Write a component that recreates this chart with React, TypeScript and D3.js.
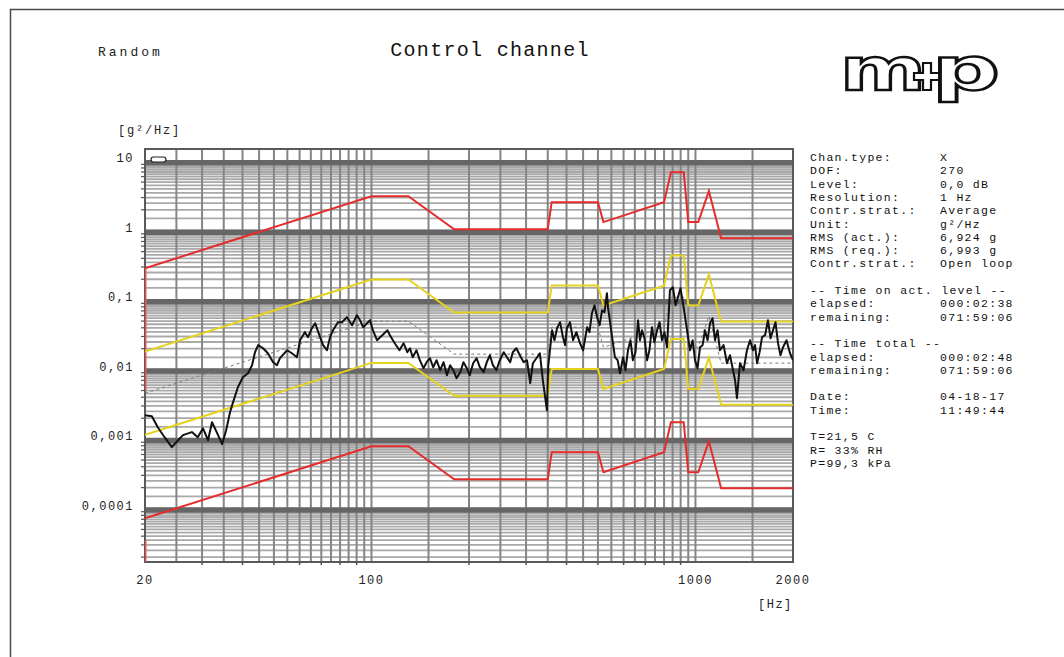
import React from 'react';
import * as d3 from 'd3';

// ---------- data ----------
const FREQ_DOMAIN: [number, number] = [20, 2000];
const PSD_DOMAIN: [number, number] = [1.7e-5, 15];

const FREQ_BREAKS = [20, 100, 130, 180, 350, 360, 500, 520, 800, 840, 920, 950, 1020, 1100, 1200, 2000];
const ABORT_UPPER = [0.288, 3.14, 3.14, 1.05, 1.05, 2.57, 2.57, 1.33, 2.57, 6.95, 6.95, 1.33, 1.33, 3.72, 0.78, 0.78];
const ALARM_UPPER = [0.0182, 0.198, 0.198, 0.0663, 0.0663, 0.162, 0.162, 0.0837, 0.162, 0.439, 0.439, 0.0837, 0.0837, 0.2345, 0.0492, 0.0492];
const REFERENCE = [0.00457, 0.0498, 0.0498, 0.0167, 0.0167, 0.0408, 0.0408, 0.021, 0.0408, 0.11, 0.11, 0.021, 0.021, 0.0589, 0.0124, 0.0124];
const ALARM_LOWER = [0.00115, 0.0125, 0.0125, 0.00419, 0.00419, 0.01025, 0.01025, 0.00528, 0.01025, 0.0277, 0.0277, 0.00528, 0.00528, 0.0148, 0.00311, 0.00311];
const ABORT_LOWER = [7.24e-5, 7.89e-4, 7.89e-4, 2.64e-4, 2.64e-4, 6.46e-4, 6.46e-4, 3.33e-4, 6.46e-4, 1.75e-3, 1.75e-3, 3.33e-4, 3.33e-4, 9.33e-4, 1.96e-4, 1.96e-4];

// short red segments on the left edge
const ABORT_UPPER_EDGE: [number, number][] = [[20, 0.288], [20, 0.005]];
const ABORT_LOWER_EDGE: [number, number][] = [[20, 3.5e-5], [20, 1.7e-5]];

const TRACE_FREQ = [
  20, 21.0, 21.9, 23.1, 24.2, 25.3, 26.2, 27.9, 29.1, 30.2, 31.3, 32.2, 33.4, 34.6, 35.6, 36.6, 37.4, 38.7, 40.1, 41.6,
  42.8, 43.7, 44.7, 46.3, 47.9, 49.7, 51.1, 52.2, 54.9, 56.8, 58.9, 60.2, 62.3, 63.7, 65.5, 67.0, 69.4, 70.9, 72.9, 74.5,
  76.1, 78.8, 81.1, 84.0, 87.1, 90.2, 92.2, 94.2, 96.9, 99.0, 101, 104, 108, 112, 114, 118, 122, 125.6, 129, 131.5,
  134, 137.7, 141, 144.7, 148, 151.6, 155, 158.8, 163, 166.9, 171, 174.8, 179, 183, 188, 192.3, 197, 201, 206, 211,
  216, 222, 227, 232, 237, 243, 249, 256, 262, 268, 273, 280, 287, 295, 302, 309, 315, 331, 338, 348,
  351, 361, 367, 374, 382, 390, 396, 401, 410, 419, 429, 440, 450, 463, 471, 479, 488, 497, 506, 515,
  524, 533, 537, 553, 564, 575, 585, 598, 608, 619, 630, 641, 653, 665, 674, 684, 696, 709, 721, 734,
  747, 761, 775, 788, 802, 817, 834, 852, 868, 883, 899, 915, 942, 962, 980, 997, 1015, 1033, 1052, 1070,
  1090, 1109, 1129, 1149, 1170, 1190, 1221, 1251, 1278, 1306, 1325, 1343, 1372, 1407, 1442, 1474, 1505, 1527, 1549, 1577,
  1605, 1640, 1674, 1705, 1735, 1766, 1798, 1830, 1863, 1910, 1958, 2000,
];
const TRACE_PSD = [
  0.00221, 0.00213, 0.00148, 0.00103, 0.000764, 0.000963, 0.00114, 0.00126, 0.00106, 0.00143, 0.000963, 0.00175, 0.00122, 0.000844, 0.00134, 0.00244, 0.0034, 0.00558, 0.00778, 0.00888,
  0.01158, 0.0178, 0.0225, 0.0203, 0.0172, 0.0128, 0.01158, 0.0146, 0.019, 0.0172, 0.0151, 0.0265, 0.0346, 0.0293, 0.0395, 0.0466, 0.0293, 0.0225, 0.019, 0.0293,
  0.0369, 0.0482, 0.0482, 0.0568, 0.0436, 0.0607, 0.0515, 0.0408, 0.0466, 0.0515, 0.0369, 0.0265, 0.0313, 0.0369, 0.0313, 0.024, 0.019, 0.024, 0.0178, 0.0203,
  0.0151, 0.019, 0.01367, 0.01048, 0.0128, 0.0146, 0.01083, 0.01367, 0.0098, 0.0128, 0.00831, 0.01158, 0.0098, 0.00752, 0.00918, 0.0128, 0.01048, 0.00831, 0.01237, 0.0146,
  0.01083, 0.00918, 0.0128, 0.0161, 0.01158, 0.0098, 0.01367, 0.0178, 0.0151, 0.0128, 0.0178, 0.0203, 0.0161, 0.0128, 0.01367, 0.00637, 0.01237, 0.0172, 0.00704, 0.0026,
  0.01083, 0.0369, 0.0265, 0.0395, 0.0482, 0.0293, 0.0225, 0.0395, 0.0482, 0.0265, 0.0346, 0.024, 0.019, 0.0408, 0.0346, 0.0649, 0.0846, 0.0568, 0.0436, 0.0717,
  0.0671, 0.126, 0.0792, 0.0293, 0.0151, 0.01367, 0.00888, 0.0151, 0.0098, 0.019, 0.0265, 0.01367, 0.0178, 0.0515, 0.0265, 0.0369, 0.0283, 0.01367, 0.019, 0.0408,
  0.0248, 0.0369, 0.0482, 0.0265, 0.0346, 0.021, 0.139, 0.1537, 0.0846, 0.1103, 0.1486, 0.0904, 0.0369, 0.019, 0.0265, 0.01367, 0.01048, 0.021, 0.0225, 0.0369,
  0.0265, 0.0466, 0.055, 0.0265, 0.0369, 0.019, 0.0225, 0.01237, 0.0161, 0.0098, 0.00704, 0.00388, 0.01237, 0.0098, 0.019, 0.0265, 0.019, 0.0225, 0.01237, 0.0178,
  0.0293, 0.0313, 0.0515, 0.0283, 0.0369, 0.0482, 0.024, 0.0161, 0.021, 0.0265, 0.0172, 0.01367,
];

const Y_TICK_VALUES = [10, 1, 0.1, 0.01, 0.001, 0.0001];
const Y_TICK_LABELS = ['10', '1', '0,1', '0,01', '0,001', '0,0001'];
const X_TICK_VALUES = [20, 100, 1000, 2000];
const X_TICK_LABELS = ['20', '100', '1000', '2000'];
const DECADES = [1e-5, 1e-4, 1e-3, 1e-2, 1e-1, 1, 10];
const MANTISSAS = [1, 1.5, 2, 2.5, 3, 3.5, 4, 4.5, 5, 5.5, 6, 6.5, 7, 7.5, 8, 8.5, 9, 9.5];
const MINOR_TICK_MANTISSAS = [2, 3, 4, 5, 6, 7, 8, 9];
const X_MINOR_TICKS = [30, 40, 50, 60, 70, 80, 90, 200, 300, 400, 500, 600, 700, 800, 900];

const INFO_ROWS: [string, string][] = [
  ['Chan.type:', 'X'],
  ['DOF:', '270'],
  ['Level:', '0,0 dB'],
  ['Resolution:', '1 Hz'],
  ['Contr.strat.:', 'Average'],
  ['Unit:', 'g²/Hz'],
  ['RMS (act.):', '6,924 g'],
  ['RMS (req.):', '6,993 g'],
  ['Contr.strat.:', 'Open loop'],
  ['', ''],
  ['-- Time on act. level --', ''],
  ['elapsed:', '000:02:38'],
  ['remaining:', '071:59:06'],
  ['', ''],
  ['-- Time total --', ''],
  ['elapsed:', '000:02:48'],
  ['remaining:', '071:59:06'],
  ['', ''],
  ['Date:', '04-18-17'],
  ['Time:', '11:49:44'],
  ['', ''],
  ['T=21,5 C', ''],
  ['R= 33% RH', ''],
  ['P=99,3 kPa', ''],
];

// ---------- component ----------
const MONO = "'Liberation Mono', 'DejaVu Sans Mono', monospace";
const PLOT = { left: 145, right: 793, top: 149, bottom: 562 };

function gridFreqs(): number[] {
  const a: number[] = [];
  for (let f = 20; f <= 100; f += 5) a.push(f);
  for (let f = 150; f <= 1000; f += 50) a.push(f);
  a.push(1500, 2000);
  return a;
}

export default function App() {
  const x = d3.scaleLog().domain(FREQ_DOMAIN).range([PLOT.left, PLOT.right]);
  const y = d3.scaleLog().domain(PSD_DOMAIN).range([PLOT.bottom, PLOT.top]);
  const line = d3.line<[number, number]>().x((d) => x(d[0])).y((d) => y(d[1]));
  const profile = (vals: number[]) => line(FREQ_BREAKS.map((f, i) => [f, vals[i]] as [number, number])) || '';
  const trace = line(TRACE_FREQ.map((f, i) => [f, TRACE_PSD[i]] as [number, number])) || '';

  const fineH: number[] = [];
  DECADES.forEach((d) =>
    MANTISSAS.forEach((m) => {
      const v = m * d;
      if (v > PSD_DOMAIN[0] && v < PSD_DOMAIN[1]) fineH.push(v);
    })
  );
  const minorY: number[] = [];
  DECADES.forEach((d) =>
    MINOR_TICK_MANTISSAS.forEach((m) => {
      const v = m * d;
      if (v > PSD_DOMAIN[0] && v < PSD_DOMAIN[1]) minorY.push(v);
    })
  );
  const vGrid = gridFreqs();

  return (
    <svg width={1064} height={657} style={{ position: 'absolute', left: 0, top: 0, background: '#fff' }}>
      <defs>
        <clipPath id="plotclip">
          <rect x={PLOT.left} y={PLOT.top} width={PLOT.right - PLOT.left} height={PLOT.bottom - PLOT.top} />
        </clipPath>
      </defs>
      <rect x={0} y={0} width={1064} height={657} fill="#fff" />
      {/* page frame */}
      <rect x={10.5} y={9.5} width={1100} height={700} fill="none" stroke="#4a4a4a" strokeWidth={1.5} />

      {/* header */}
      <text x={98} y={56} fontFamily={MONO} fontSize={13} letterSpacing={3} fill="#222">Random</text>
      <text x={490} y={56} fontFamily={MONO} fontSize={20} letterSpacing={1.3} fill="#111" textAnchor="middle">Control channel</text>

      {/* logo */}
      <g>
        <text x={840} y={90} fontFamily="'DejaVu Sans', sans-serif" fontWeight="bold" fontSize={58} textLength={86}
          lengthAdjust="spacingAndGlyphs" fill="#fff" stroke="#111" strokeWidth={2.4}>m</text>
        <path d="M923 63 h8 v10 h9 v7 h-9 v10 h-8 v-10 h-9 v-7 h9 z" fill="#fff" stroke="#111" strokeWidth={2.2} />
        <text x={932} y={90} fontFamily="'DejaVu Sans', sans-serif" fontWeight="bold" fontSize={58} textLength={68}
          lengthAdjust="spacingAndGlyphs" fill="#fff" stroke="#111" strokeWidth={2.4}>p</text>
      </g>

      {/* unit label */}
      <text x={118} y={134} fontFamily={MONO} fontSize={12} letterSpacing={1.8} fill="#222">[g²/Hz]</text>

      {/* grid */}
      <g clipPath="url(#plotclip)">
        {fineH.map((v, i) => (
          <line key={'h' + i} x1={PLOT.left} x2={PLOT.right} y1={y(v)} y2={y(v)} stroke="#a9a9a9" strokeWidth={1.8} />
        ))}
        {vGrid.map((f, i) => (
          <line key={'v' + i} x1={x(f)} x2={x(f)} y1={PLOT.top} y2={PLOT.bottom} stroke="#858585" strokeWidth={2} />
        ))}
        {DECADES.filter((d) => d > PSD_DOMAIN[0] && d < PSD_DOMAIN[1]).map((d, i) => (
          <line key={'d' + i} x1={PLOT.left} x2={PLOT.right} y1={y(d) + 1.5} y2={y(d) + 1.5} stroke="#666" strokeWidth={5.5} />
        ))}
      </g>

      {/* frame of plot */}
      <rect x={PLOT.left} y={PLOT.top} width={PLOT.right - PLOT.left} height={PLOT.bottom - PLOT.top}
        fill="none" stroke="#5a5a5a" strokeWidth={2} />
      {minorY.map((v, i) => (
        <line key={'my' + i} x1={PLOT.left - 4} x2={PLOT.left} y1={y(v)} y2={y(v)} stroke="#555" strokeWidth={1.2} />
      ))}
      {X_MINOR_TICKS.map((f, i) => (
        <line key={'mx' + i} x1={x(f)} x2={x(f)} y1={PLOT.bottom} y2={PLOT.bottom + 3} stroke="#555" strokeWidth={1.5} />
      ))}

      {/* data */}
      <g clipPath="url(#plotclip)" fill="none">
        <path d={profile(REFERENCE)} stroke="#7a7a7a" strokeWidth={1} strokeDasharray="3,3" />
        <path d={profile(ABORT_UPPER)} stroke="#e52b2b" strokeWidth={2} />
        <path d={profile(ABORT_LOWER)} stroke="#e52b2b" strokeWidth={2} />
        <path d={line(ABORT_UPPER_EDGE) || ''} stroke="#f05050" strokeWidth={3} />
        <path d={line(ABORT_LOWER_EDGE) || ''} stroke="#f05050" strokeWidth={3} />
        <path d={profile(ALARM_UPPER)} stroke="#e6d21c" strokeWidth={2} />
        <path d={profile(ALARM_LOWER)} stroke="#e6d21c" strokeWidth={2} />
        <path d={trace} stroke="#111" strokeWidth={2} strokeLinejoin="round" />
      </g>

      {/* marker */}
      <rect x={151} y={157} width={15} height={5} rx={2.5} fill="#fff" stroke="#222" strokeWidth={1.2} />

      {/* y labels */}
      {Y_TICK_VALUES.map((v, i) => (
        <text key={'yl' + i} x={134} y={y(v) + 1} fontFamily={MONO} fontSize={12} letterSpacing={1.5}
          textAnchor="end" fill="#222">{Y_TICK_LABELS[i]}</text>
      ))}
      {/* x labels */}
      {X_TICK_VALUES.map((f, i) => (
        <text key={'xl' + i} x={x(f)} y={584} fontFamily={MONO} fontSize={12} letterSpacing={1.5}
          textAnchor="middle" fill="#222">{X_TICK_LABELS[i]}</text>
      ))}
      <text x={758} y={608} fontFamily={MONO} fontSize={12} letterSpacing={1.5} fill="#222">[Hz]</text>

      {/* info panel */}
      {INFO_ROWS.map((r, i) => (
        <g key={'ir' + i}>
          {r[0] && (
            <text x={810} y={161 + i * 13.3} fontFamily={MONO} fontSize={11.5} letterSpacing={1.3} fill="#111">{r[0]}</text>
          )}
          {r[1] && (
            <text x={940} y={161 + i * 13.3} fontFamily={MONO} fontSize={11.5} letterSpacing={1.3} fill="#111">{r[1]}</text>
          )}
        </g>
      ))}
    </svg>
  );
}
